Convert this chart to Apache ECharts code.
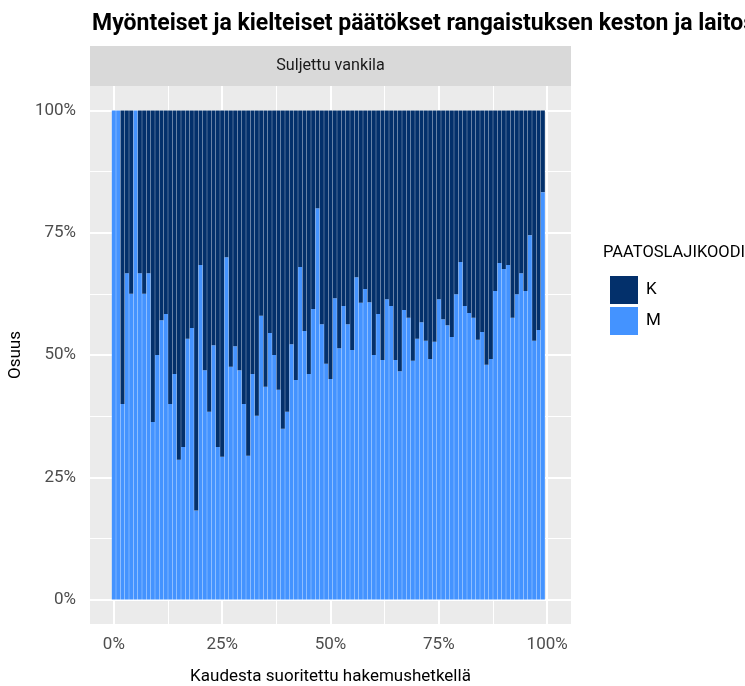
<!DOCTYPE html>
<html>
<head>
<meta charset="utf-8" />
<script src="https://cdn.jsdelivr.net/npm/echarts@6/dist/echarts.min.js"></script>
<style>
  html, body { margin: 0; padding: 0; background: #ffffff; }
  #chart { width: 745px; height: 686px; }
</style>
</head>
<body>
<div id="chart"></div>
<script>
const FONT = "Roboto, 'Liberation Sans', sans-serif";

const COLOR_K = "#03306b";
const COLOR_M = "#4493ff";

const TITLE = "Myönteiset ja kielteiset päätökset rangaistuksen keston ja laitostyypin mukaan";
const FACET = "Suljettu vankila";
const LEGEND_TITLE = "PAATOSLAJIKOODI";

// share of sentence served when applying, 1 % bins
const servedBins = [
  0, 1, 2, 3, 4, 5, 6, 7, 8, 9,
  10, 11, 12, 13, 14, 15, 16, 17, 18, 19,
  20, 21, 22, 23, 24, 25, 26, 27, 28, 29,
  30, 31, 32, 33, 34, 35, 36, 37, 38, 39,
  40, 41, 42, 43, 44, 45, 46, 47, 48, 49,
  50, 51, 52, 53, 54, 55, 56, 57, 58, 59,
  60, 61, 62, 63, 64, 65, 66, 67, 68, 69,
  70, 71, 72, 73, 74, 75, 76, 77, 78, 79,
  80, 81, 82, 83, 84, 85, 86, 87, 88, 89,
  90, 91, 92, 93, 94, 95, 96, 97, 98, 99,
];

// % of decisions coded M in each bin (K is the rest)
const shareM = [
  100, 100, 40, 66.7, 62.5, 100, 66.7, 62.5, 66.7, 36.3,
  50, 57.1, 58.4, 40, 46.1, 28.6, 31.2, 53.3, 55.5, 18.2,
  68.4, 46.9, 38.4, 52, 31.2, 29.2, 70, 47.6, 51.8, 46.9,
  40, 29.4, 46.1, 37.6, 58, 43.5, 54.5, 50, 42.9, 34.9,
  38.4, 52.2, 44.9, 68, 54.9, 46.1, 59.4, 80, 56.3, 48.2,
  45.1, 61.6, 51.4, 60, 56.3, 51, 65.9, 60.7, 63.5, 60.8,
  50, 58.4, 49, 61.4, 60, 49, 46.7, 59.2, 57.6, 48.8,
  53.3, 56.7, 52.9, 49.2, 52.7, 61.4, 57.3, 56.1, 53.7, 62.4,
  69, 60, 58.6, 57.6, 53.1, 54.7, 48, 49.2, 63.1, 68.8,
  67.6, 68.4, 57.6, 62.4, 66.7, 63.1, 74.5, 52.9, 55.1, 83.3,
];

const majorTicks = [0, 25, 50, 75, 100];
const minorTicks = [12.5, 37.5, 62.5, 87.5];

const chart = echarts.init(document.getElementById("chart"));

const axisLabelStyle = {
  color: "#4d4d4d",
  fontFamily: FONT,
  fontSize: 17,
  formatter: "{value}%",
  customValues: majorTicks,
};

const axisTickStyle = {
  show: true,
  customValues: majorTicks,
  length: 5,
  lineStyle: { color: "#333333", width: 2 },
};

const gridLines = (dim) => [
  ...majorTicks.map((v) => ({ [dim]: v, lineStyle: { width: 2 } })),
  ...minorTicks.map((v) => ({ [dim]: v, lineStyle: { width: 1 } })),
];

const shareK = shareM.map((m) => +(100 - m).toFixed(1));

// share first, bin second: keeps the stack on the y dimension of a value x axis
const toRows = (values) => values.map((v, i) => [v, servedBins[i]]);

const textEl = (text, x, y, opts) => ({
  type: "text",
  x,
  y,
  scaleX: opts.scaleX || 1,
  silent: true,
  style: {
    text,
    align: opts.align || "left",
    verticalAlign: "middle",
    fontFamily: FONT,
    fontSize: opts.size,
    fontWeight: opts.weight || "normal",
    fill: opts.color || "#000000",
  },
});

chart.setOption({
  animation: false,
  backgroundColor: "#ffffff",
  legend: {
    orient: "vertical",
    left: 605,
    top: 271,
    data: ["K", "M"],
    icon: "rect",
    itemWidth: 28,
    itemHeight: 28,
    itemGap: 3,
    textStyle: { fontFamily: FONT, fontSize: 17, color: "#000000", padding: [0, 0, 0, 3] },
  },
  graphic: [
    textEl(TITLE, 92, 24, { size: 23, weight: "bold" }),
    { type: "rect", x: 90, y: 46, shape: { width: 481, height: 40 }, style: { fill: "#d9d9d9" }, silent: true },
    textEl(FACET, 330.5, 66, { size: 17, align: "center", color: "#1a1a1a", scaleX: 0.95 }),
    textEl(LEGEND_TITLE, 603, 253, { size: 17, scaleX: 0.97 }),
  ],
  grid: {
    left: 90,
    top: 86,
    width: 481,
    height: 538,
    show: true,
    backgroundColor: "#ebebeb",
    borderWidth: 0,
    containLabel: false,
    outerBoundsMode: "none",
  },
  xAxis: {
    type: "value",
    min: -5.5,
    max: 105.5,
    name: "Kaudesta suoritettu hakemushetkellä",
    nameLocation: "middle",
    nameGap: 44,
    nameTextStyle: { fontFamily: FONT, fontSize: 17, color: "#000000" },
    axisLine: { show: false },
    axisTick: axisTickStyle,
    axisLabel: { ...axisLabelStyle, margin: 12 },
    splitLine: { show: false },
  },
  yAxis: {
    type: "value",
    min: -5,
    max: 105,
    name: "Osuus",
    nameLocation: "middle",
    nameRotate: 90,
    nameGap: 63,
    nameTextStyle: { fontFamily: FONT, fontSize: 17, color: "#000000" },
    axisLine: { show: false },
    axisTick: axisTickStyle,
    axisLabel: { ...axisLabelStyle, margin: 14 },
    splitLine: { show: false },
  },
  series: [
    {
      name: "panel",
      type: "line",
      data: [],
      silent: true,
      z: 0,
      markArea: {
        silent: true,
        itemStyle: { color: "#ffffff" },
        data: [[
          { xAxis: servedBins[0] - 0.45, yAxis: 0 },
          { xAxis: servedBins[servedBins.length - 1] + 0.45, yAxis: 100 },
        ]],
      },
      markLine: {
        silent: true,
        symbol: ["none", "none"],
        label: { show: false },
        lineStyle: { color: "#ffffff", type: "solid" },
        data: [...gridLines("xAxis"), ...gridLines("yAxis")],
      },
    },
    {
      name: "M",
      type: "bar",
      stack: "share",
      barWidth: "93%",
      z: 10,
      encode: { x: 1, y: 0 },
      itemStyle: { color: COLOR_M },
      data: toRows(shareM),
    },
    {
      name: "K",
      type: "bar",
      stack: "share",
      barWidth: "93%",
      z: 10,
      encode: { x: 1, y: 0 },
      itemStyle: { color: COLOR_K },
      data: toRows(shareK),
    },
  ],
});
</script>
</body>
</html>
